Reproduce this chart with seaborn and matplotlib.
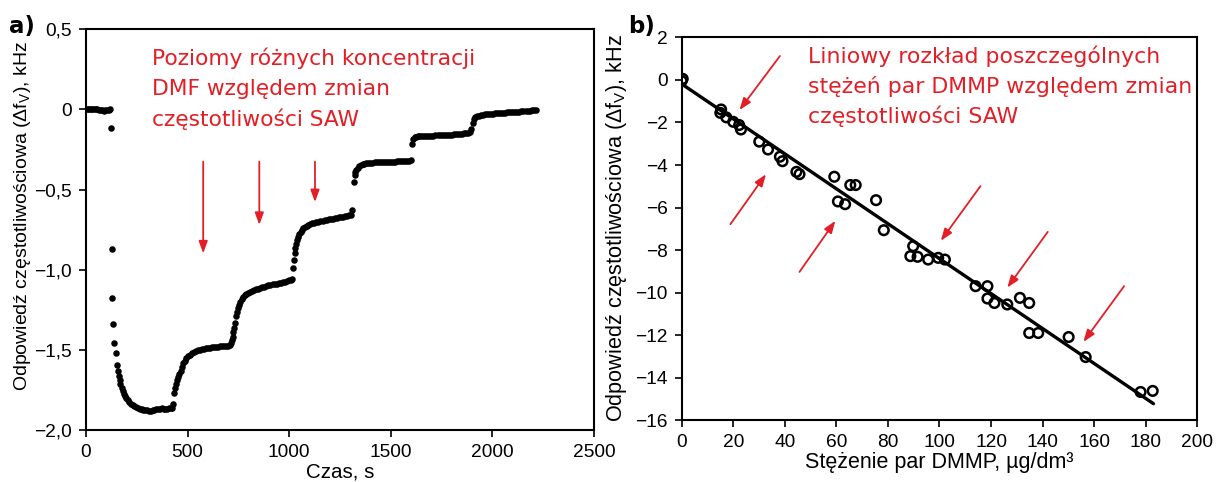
import numpy as np
import pandas as pd
import matplotlib
matplotlib.use("Agg")
import matplotlib.pyplot as plt
import seaborn as sns
from matplotlib.ticker import FixedLocator, FuncFormatter

# ---------------- data: panel a) (time series) ----------------
t_flat0 = [0, 8, 16, 24, 32, 40, 48, 56, 64, 72, 80, 88, 96, 104, 112, 118]
v_flat0 = [0.004, 0.004, 0.003, 0.003, 0.002, 0.002, 0.001, 0.0, -0.002, -0.004,
           -0.006, -0.007, -0.006, -0.004, -0.002, 0.001]

t_fall = [121, 129, 130, 134, 139, 147, 152, 157, 162, 166, 170, 175, 180, 186, 192,
          199, 206, 214, 222, 230, 238, 247, 256, 265, 274, 283, 292, 301, 310, 319,
          328, 337, 346, 355, 364, 373, 382, 391, 400, 409, 417, 424]
v_fall = [-0.118, -0.873, -1.178, -1.339, -1.455, -1.518, -1.594, -1.635, -1.663, -1.69,
          -1.715, -1.738, -1.758, -1.776, -1.79, -1.803, -1.815, -1.826, -1.835, -1.843,
          -1.85, -1.856, -1.861, -1.866, -1.87, -1.873, -1.876, -1.878, -1.88, -1.879,
          -1.877, -1.874, -1.871, -1.868, -1.866, -1.865, -1.866, -1.867, -1.866, -1.865,
          -1.864, -1.862]

t_step1 = [430, 434, 438, 443, 448, 454, 460, 466, 472, 479, 486, 494, 502, 511, 520,
           530, 540, 550, 560, 570, 580, 590, 600, 610, 620, 630, 640, 650, 660, 670,
           680, 690, 700, 707]
v_step1 = [-1.84, -1.77, -1.735, -1.71, -1.69, -1.67, -1.65, -1.63, -1.605, -1.585,
           -1.567, -1.553, -1.54, -1.53, -1.522, -1.515, -1.509, -1.504, -1.5, -1.496,
           -1.493, -1.49, -1.488, -1.486, -1.484, -1.482, -1.481, -1.48, -1.479, -1.478,
           -1.477, -1.476, -1.475, -1.47]

t_step2 = [712, 717, 722, 726, 730, 734, 738, 743, 748, 754, 760, 767, 774, 782, 790,
           799, 808, 818, 828, 838, 848, 858, 868, 878, 888, 898, 908, 918, 928, 938,
           948, 958, 968, 978, 988, 998, 1008, 1014]
v_step2 = [-1.46, -1.44, -1.418, -1.39, -1.366, -1.33, -1.29, -1.262, -1.24, -1.22,
           -1.2, -1.185, -1.172, -1.16, -1.15, -1.143, -1.137, -1.131, -1.126, -1.122,
           -1.118, -1.114, -1.11, -1.106, -1.102, -1.098, -1.095, -1.092, -1.089, -1.086,
           -1.083, -1.08, -1.077, -1.074, -1.07, -1.066, -1.062, -1.058]

t_step3 = [1020, 1023, 1027, 1031, 1035, 1039, 1044, 1050, 1056, 1063, 1070, 1078, 1086,
           1095, 1104, 1114, 1124, 1134, 1144, 1154, 1164, 1174, 1184, 1194, 1204, 1214,
           1224, 1234, 1244, 1254, 1264, 1274, 1284, 1294, 1302, 1310]
v_step3 = [-0.99, -0.94, -0.898, -0.862, -0.838, -0.815, -0.795, -0.778, -0.764, -0.752,
           -0.742, -0.734, -0.727, -0.721, -0.716, -0.711, -0.707, -0.703, -0.7, -0.697,
           -0.694, -0.691, -0.689, -0.686, -0.684, -0.681, -0.679, -0.677, -0.674, -0.672,
           -0.669, -0.667, -0.664, -0.661, -0.659, -0.627]

t_step4 = [1318, 1322, 1326, 1331, 1337, 1344, 1352, 1361, 1370, 1380, 1390, 1400,
           1410, 1420, 1430, 1440, 1450, 1460, 1470, 1480, 1490, 1500, 1510, 1520, 1530,
           1540, 1550, 1560, 1570, 1580, 1590, 1600]
v_step4 = [-0.45, -0.41, -0.39, -0.375, -0.363, -0.354, -0.347, -0.342, -0.338, -0.336,
           -0.334, -0.333, -0.332, -0.331, -0.331, -0.33, -0.33, -0.329, -0.328, -0.328,
           -0.327, -0.326, -0.326, -0.325, -0.324, -0.324, -0.323, -0.322, -0.321, -0.32,
           -0.319, -0.317]

t_step5 = [1606, 1611, 1617, 1624, 1632, 1641, 1650, 1660, 1670, 1680, 1690, 1700, 1710,
           1720, 1730, 1740, 1750, 1760, 1770, 1780, 1790, 1800, 1810, 1820, 1830, 1840,
           1850, 1860, 1870, 1880, 1890, 1896]
v_step5 = [-0.217, -0.185, -0.175, -0.17, -0.168, -0.167, -0.166, -0.166, -0.165, -0.165,
           -0.164, -0.164, -0.163, -0.162, -0.162, -0.161, -0.16, -0.16, -0.159, -0.158,
           -0.157, -0.157, -0.156, -0.155, -0.154, -0.153, -0.152, -0.15, -0.148, -0.145,
           -0.141, -0.12]

t_step6 = [1903, 1909, 1916, 1924, 1933, 1943, 1953, 1963, 1973, 1983, 1993, 2003, 2013,
           2023, 2033, 2043, 2053, 2063, 2073, 2083, 2093, 2103, 2113, 2123, 2133, 2143,
           2153, 2163, 2173, 2183, 2193, 2203, 2213]
v_step6 = [-0.085, -0.062, -0.05, -0.043, -0.038, -0.035, -0.033, -0.031, -0.03, -0.028,
           -0.027, -0.026, -0.025, -0.024, -0.023, -0.022, -0.021, -0.02, -0.019, -0.018,
           -0.017, -0.016, -0.015, -0.014, -0.013, -0.012, -0.011, -0.009, -0.008, -0.007,
           -0.006, -0.005, -0.004]

time_s = t_flat0 + t_fall + t_step1 + t_step2 + t_step3 + t_step4 + t_step5 + t_step6
resp_khz = v_flat0 + v_fall + v_step1 + v_step2 + v_step3 + v_step4 + v_step5 + v_step6
assert len(time_s) == len(resp_khz)

# ---------------- data: panel b) (DMMP calibration) ----------------
conc_dmmp = [0, 0.4, 15.0, 15.3, 17.3, 20.0, 22.3, 23.0, 30.1, 33.5, 38.1, 39.1, 44.5,
             45.7, 59.2, 60.6, 63.4, 65.4, 67.5, 75.4, 78.4, 88.7, 89.8, 91.5, 95.6,
             99.5, 102.1, 114.0, 118.6, 118.6, 121.3, 126.3, 131.2, 134.8, 134.8, 138.3,
             150.1, 156.7, 178.0, 182.7]
resp_dmmp = [-0.05, 0.05, -1.55, -1.39, -1.76, -1.97, -2.12, -2.33, -2.9, -3.27, -3.61,
             -3.82, -4.32, -4.43, -4.55, -5.71, -5.84, -4.94, -4.94, -5.65, -7.06, -8.28,
             -7.81, -8.31, -8.44, -8.36, -8.44, -9.69, -9.69, -10.27, -10.48, -10.55,
             -10.24, -10.48, -11.89, -11.89, -12.08, -13.02, -14.66, -14.61]
# linear fit line as drawn in the figure (end points)
fit_conc = [0.0, 183.0]
fit_resp = [-0.19, -15.21]

xticks_a = [0, 500, 1000, 1500, 2000, 2500]
yticks_a = [0.5, 0.0, -0.5, -1.0, -1.5, -2.0]
xticks_b = [0, 20, 40, 60, 80, 100, 120, 140, 160, 180, 200]
yticks_b = [2, 0, -2, -4, -6, -8, -10, -12, -14, -16]

text_a = ["Poziomy różnych koncentracji", "DMF względem zmian", "częstotliwości SAW"]
text_b = ["Liniowy rozkład poszczególnych", "stężeń par DMMP względem zmian",
          "częstotliwości SAW"]

# ---------------- style ----------------
sns.set_theme(style="ticks")
plt.rcParams["font.family"] = ["Liberation Sans", "DejaVu Sans"]
plt.rcParams["mathtext.fontset"] = "custom"
plt.rcParams["mathtext.rm"] = "Liberation Sans"
plt.rcParams["mathtext.it"] = "Liberation Sans:italic"
plt.rcParams["axes.unicode_minus"] = True
for key in ["text.color", "axes.labelcolor", "xtick.color", "ytick.color",
            "xtick.labelcolor", "ytick.labelcolor", "axes.edgecolor"]:
    plt.rcParams[key] = "black"

RED = "#e31e26"
TICK_FS = 13.8

fig = plt.figure(figsize=(12.19, 4.82), dpi=100)
ax1 = fig.add_axes([0.0705, 0.1079, 0.4168, 0.8313])
ax2 = fig.add_axes([0.5592, 0.1276, 0.4230, 0.7950])

for ax in (ax1, ax2):
    for sp in ax.spines.values():
        sp.set_visible(True)
        sp.set_linewidth(1.5)
        sp.set_color("black")
    ax.tick_params(direction="out", length=5, width=1.2, labelsize=TICK_FS,
                   colors="black", pad=5, top=False, right=False)
    ax.grid(False)
    ax.set_facecolor("white")

# ---- panel a
sns.scatterplot(x=time_s, y=resp_khz, ax=ax1, color="black", s=22, linewidth=0)
ax1.set_xlim(0, 2500)
ax1.set_ylim(-2.0, 0.5)
ax1.xaxis.set_major_locator(FixedLocator(xticks_a))
ax1.yaxis.set_major_locator(FixedLocator(yticks_a))


def fmt_a(v, pos):
    if abs(v) < 1e-9:
        return "0"
    return ("%.1f" % v).replace(".", ",").replace("-", "\u2212")


ax1.yaxis.set_major_formatter(FuncFormatter(fmt_a))
ax1.set_xlabel("Czas, s", fontsize=14.8, va="top")
ax1.xaxis.set_label_coords(0.5, -0.082)
ax1.set_ylabel("Odpowiedź częstotliwościowa (Δf$_\\mathregular{V}$), kHz", fontsize=14)
ax1.yaxis.set_label_coords(-0.104, 0.535)

for line, yb in zip(text_a, [0.277, 0.087, -0.103]):
    ax1.text(325, yb, line, color=RED, fontsize=15.7, family="DejaVu Sans",
             va="baseline", ha="left")

arrow_kw = dict(arrowstyle="-|>,head_length=0.6,head_width=0.22", lw=1.3, color=RED,
                shrinkA=0, shrinkB=0)
for xa, y0, y1 in [(577, -0.326, -0.898), (853, -0.326, -0.72), (1127, -0.326, -0.578)]:
    ax1.annotate("", xy=(xa, y1), xytext=(xa, y0), arrowprops=arrow_kw)

# ---- panel b
sns.lineplot(x=fit_conc, y=fit_resp, ax=ax2, color="black", lw=2.4)
sns.scatterplot(x=conc_dmmp, y=resp_dmmp, ax=ax2, s=48, facecolor="none",
                edgecolor="black", linewidth=1.8, zorder=3)
ax2.set_xlim(0, 200)
ax2.set_ylim(-16, 2)
ax2.xaxis.set_major_locator(FixedLocator(xticks_b))
ax2.yaxis.set_major_locator(FixedLocator(yticks_b))
ax2.set_xlabel("Stężenie par DMMP, µg/dm³", fontsize=15.5, va="top")
ax2.xaxis.set_label_coords(0.5, -0.082)
ax2.set_ylabel("Odpowiedź częstotliwościowa (Δf$_\\mathregular{V}$), kHz", fontsize=15.6)
ax2.yaxis.set_label_coords(-0.102, 0.502)

for line, yb in zip(text_b, [0.779, -0.63, -2.04]):
    ax2.text(49, yb, line, color=RED, fontsize=15.8, family="DejaVu Sans",
             va="baseline", ha="left")

for (x0, y0), (x1, y1) in [((38.1, 1.12), (22.4, -1.42)),
                           ((18.9, -6.78), (32.7, -4.43)),
                           ((45.7, -9.02), (59.6, -6.62)),
                           ((115.9, -4.99), (100.5, -7.56)),
                           ((142.0, -7.14), (126.3, -9.76)),
                           ((171.6, -9.69), (155.8, -12.31))]:
    ax2.annotate("", xy=(x1, y1), xytext=(x0, y0), arrowprops=arrow_kw)

fig.text(0.0074, 1 - 33 / 482, "a)", fontsize=16.5, weight="bold",
         family="DejaVu Sans", va="baseline", ha="left")
fig.text(628 / 1219, 1 - 33 / 482, "b)", fontsize=16.5, weight="bold",
         family="DejaVu Sans", va="baseline", ha="left")

fig.savefig("out.png", dpi=100, facecolor="white")
